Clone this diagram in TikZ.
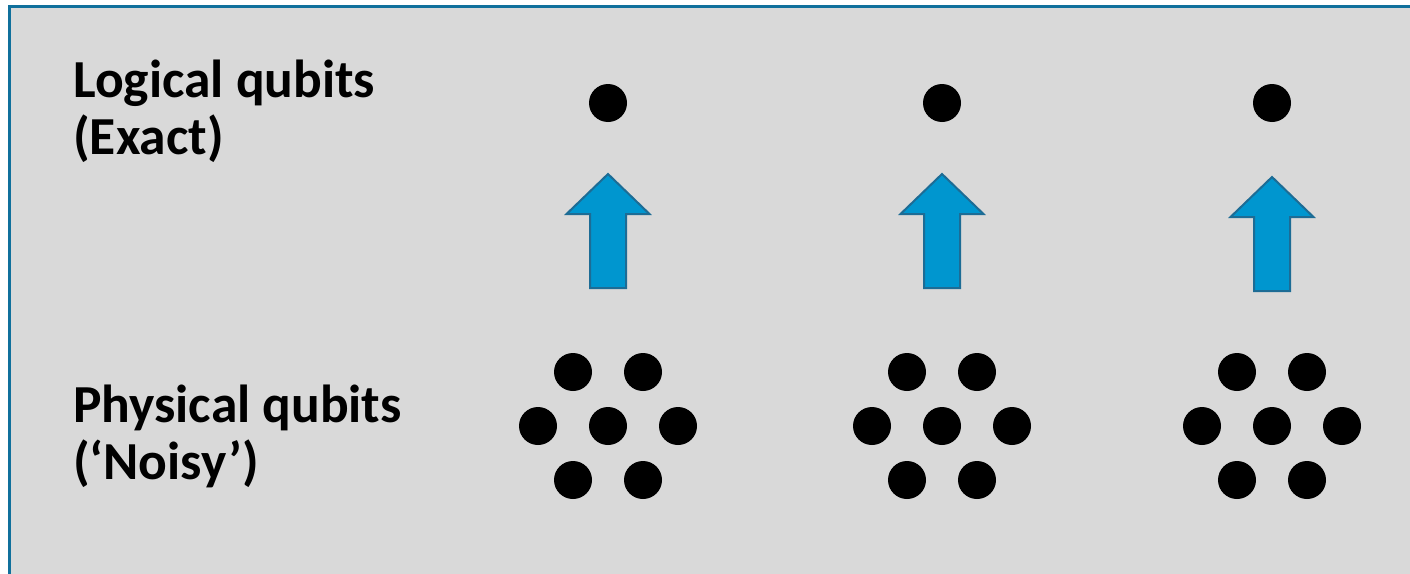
\documentclass[tikz,border=0pt]{standalone}
\usepackage{fontspec}
\setmainfont{Carlito}
\definecolor{bggray}{HTML}{D9D9D9}
\definecolor{frameblue}{HTML}{10709C}
\definecolor{arrowfill}{HTML}{0096CF}
\definecolor{arrowline}{HTML}{1D6C95}
\tikzset{
  qdot/.style={circle, fill=black, inner sep=0pt, minimum size=38pt},
  blockarrow/.style={fill=arrowfill, draw=arrowline, line width=2pt, line join=miter},
  label/.style={font=\bfseries\fontsize{53.5}{57}\selectfont, align=left, anchor=base west, inner sep=0pt},
  pics/cluster/.style={code={
    \node[qdot] (-a) at (-35,-54) {};
    \node[qdot] (-b) at (35,-54) {};
    \node[qdot] (-c) at (-70,0) {};
    \node[qdot] (-d) at (0,0) {};
    \node[qdot] (-e) at (70,0) {};
    \node[qdot] (-f) at (-35,54) {};
    \node[qdot] (-g) at (35,54) {};
  }}
}
\begin{document}
\begin{tikzpicture}[x=1pt,y=-1pt]
\useasboundingbox (0,0) rectangle (1410,573);
\clip (0,0) rectangle (1410,573);
\fill[white] (0,0) rectangle (1410,573);
\draw[fill=bggray, draw=frameblue, line width=3pt] (9.5,6.5) rectangle (1430,600);

\node[label] (logical) at (73,154) {Logical qubits\\(Exact)};
\node[label] (physical) at (73,479) {Physical qubits\\(‘Noisy’)};

\node[qdot] (l1) at (608,103) {};
\node[qdot] (l2) at (942,103) {};
\node[qdot] (l3) at (1272,103) {};

\foreach \cx/\ty/\by in {608/174/288, 942/174/288, 1272/177/291}{
  \draw[blockarrow] (\cx,\ty) -- (\cx+41.5,\ty+40) -- (\cx+18,\ty+40) -- (\cx+18,\by)
    -- (\cx-18,\by) -- (\cx-18,\ty+40) -- (\cx-41.5,\ty+40) -- cycle;
}

\pic (p1) at (608,426) {cluster};
\pic (p2) at (942,426) {cluster};
\pic (p3) at (1272,426) {cluster};
\end{tikzpicture}
\end{document}
